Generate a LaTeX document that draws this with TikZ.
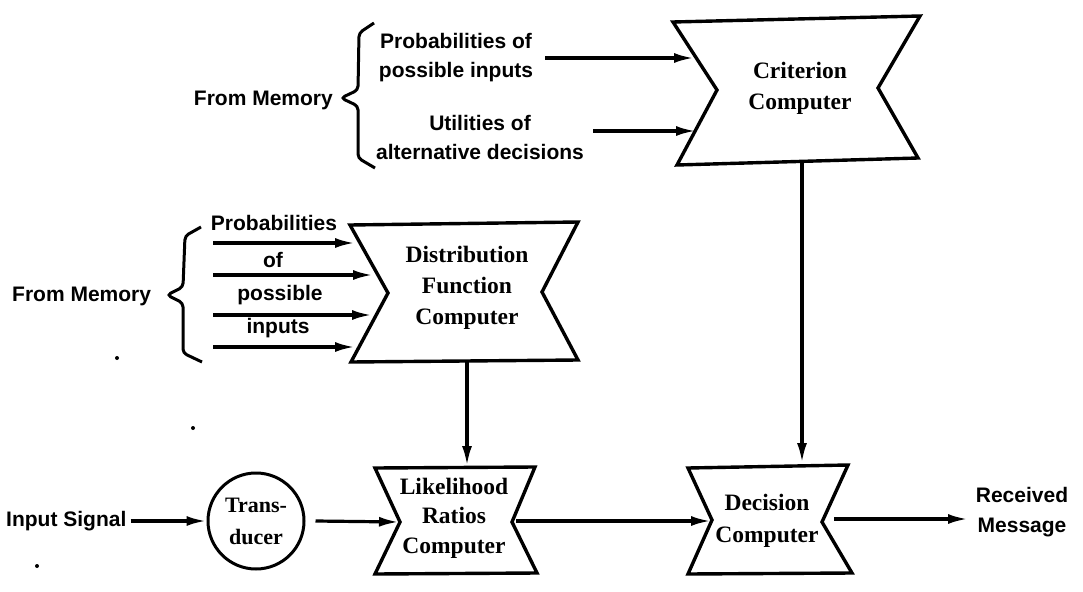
\documentclass[tikz,border=0pt]{standalone}
\usepackage{fontspec}
\setmainfont{Liberation Sans}
\newfontfamily\boxfont{Liberation Serif}
\usetikzlibrary{arrows.meta}
\begin{document}
\begin{tikzpicture}[x=1pt,y=-1pt,
  lbl/.style={font=\bfseries\fontsize{21}{29}\selectfont, inner sep=0pt, align=center},
  boxtxt/.style={font=\boxfont\bfseries\fontsize{23.5}{31}\selectfont, inner sep=0pt, align=center},
  shp/.style={draw, line width=3.4pt, line join=miter},
  arr/.style={-{Latex[length=20pt,width=10pt]}, line width=3.2pt},
  bracestyle/.style={draw, line width=3pt, rounded corners=4pt},
  speck/.style={fill=black}]
\useasboundingbox (0,0) rectangle (1083,591);

% ---------- upper group ----------
\node[lbl, anchor=east] (mem1) at (333,100) {From Memory};
\draw[bracestyle] (374,23) -- (359,33) -- (358,90) -- (341,98) -- (358,106) -- (358,158) -- (375,168);
\node[lbl] (prob1) at (456,58) {Probabilities of\\possible inputs};
\node[lbl] (util1) at (480,137) {Utilities of\\alternative decisions};

\draw[shp] (673,22) -- (920,16) -- (878,88) -- (918,158) -- (677,165) -- (717,90) -- cycle;
\node[boxtxt] (crit) at (800,88) {Criterion\\Computer};

\coordinate (u1s) at (545,58);
\coordinate (u1e) at (694,58);
\coordinate (u2s) at (593,131);
\coordinate (u2e) at (696,131);
\draw[arr] (u1s) -- (u1e);
\draw[arr] (u2s) -- (u2e);

% ---------- middle group ----------
\node[lbl, anchor=west] (mem2) at (12,296) {From Memory};
\draw[bracestyle] (201,227) -- (185,236) -- (183,287) -- (167,295) -- (183,303) -- (183,353) -- (202,362);
\node[lbl] (p2a) at (274,223) {Probabilities};
\node[lbl] (p2b) at (273,260) {of};
\node[lbl] (p2c) at (280,295) {possible};
\node[lbl] (p2d) at (278,328) {inputs};

\draw[shp] (350,225) -- (578,222) -- (542,292) -- (578,360) -- (351,362) -- (388,293) -- cycle;
\node[boxtxt] (dist) at (467,288) {Distribution\\Function\\Computer};

\coordinate (m1s) at (213,243); \coordinate (m1e) at (355,243);
\coordinate (m2s) at (213,275); \coordinate (m2e) at (373,275);
\coordinate (m3s) at (213,315); \coordinate (m3e) at (372,315);
\coordinate (m4s) at (213,347); \coordinate (m4e) at (355,347);
\draw[arr] (m1s) -- (m1e);
\draw[arr] (m2s) -- (m2e);
\draw[arr] (m3s) -- (m3e);
\draw[arr] (m4s) -- (m4e);

% ---------- lower group ----------
\node[lbl, anchor=west] (insig) at (6,521) {Input Signal};
\node[draw, circle, minimum size=96pt, inner sep=0pt, line width=3pt] (trans) at (256,521) {};
\node[boxtxt, font=\boxfont\bfseries\fontsize{22}{32}\selectfont] (transtxt) at (256,521) {Trans-\\ducer};

\draw[shp] (375,468) -- (535,467) -- (512,522) -- (537,573) -- (375,574) -- (400,522) -- cycle;
\node[boxtxt, font=\boxfont\bfseries\fontsize{23.5}{29.5}\selectfont] (lik) at (454,518) {Likelihood\\Ratios\\Computer};

\draw[shp] (688,468) -- (848,465) -- (822,522) -- (852,573) -- (688,574) -- (712,520) -- cycle;
\node[boxtxt, font=\boxfont\bfseries\fontsize{23.5}{32}\selectfont] (dec) at (767,521) {Decision\\Computer};

\node[lbl, font=\bfseries\fontsize{21}{30}\selectfont] (recv) at (1022,512) {Received\\Message};

\coordinate (distB) at (467,362);
\coordinate (likT) at (467,466);
\coordinate (critB) at (802,161);
\coordinate (decT) at (802,463);
\coordinate (likL) at (399,522);
\coordinate (likR) at (516,521);
\coordinate (decL) at (711,521);
\coordinate (decR) at (834,519);
\coordinate (recvE) at (968,519);

\draw[arr] (distB) -- (likT);
\draw[arr] (critB) -- (decT);
\draw[arr] ([xshift=4pt]insig.east) -- (trans.west);
\draw[arr] ([xshift=10pt]trans.east) -- (likL);
\draw[arr] (likR) -- (decL);
\draw[arr] (decR) -- (recvE);

% scan specks
\fill[speck] (117,358) circle (2pt);
\fill[speck] (193,428) circle (2pt);
\fill[speck] (37,566) circle (2pt);
\end{tikzpicture}
\end{document}
